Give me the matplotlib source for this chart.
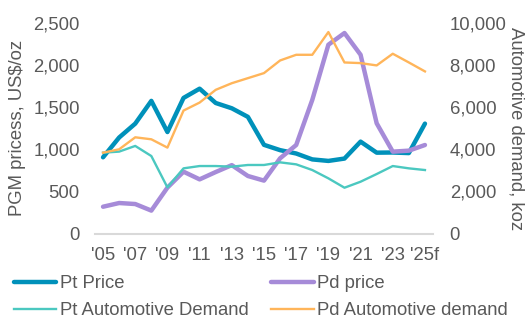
import numpy as np
import matplotlib
matplotlib.use("Agg")
import matplotlib.pyplot as plt

plt.rcParams['font.family'] = ['Liberation Sans', 'DejaVu Sans']

# data
years = list(range(2005, 2026))
tick_labels = ["'05", "'07", "'09", "'11", "'13", "'15", "'17", "'19", "'21", "'23", "'25f"]

pt_price = [905, 1140, 1305, 1575, 1205, 1610, 1720, 1550, 1487, 1385, 1053,
            990, 950, 880, 862, 890, 1091, 960, 962, 955, 1305]
pd_price = [318, 362, 350, 272, 545, 734, 643, 730, 812, 683, 628,
            893, 1051, 1587, 2242, 2381, 2123, 1309, 972, 984, 1051]
pt_auto = [3840, 3890, 4160, 3680, 2190, 3095, 3205, 3205, 3175, 3255, 3255,
           3380, 3285, 3015, 2620, 2175, 2460, 2825, 3205, 3095, 3015]
pd_auto = [3840, 4000, 4570, 4475, 4080, 5840, 6220, 6825, 7140, 7380, 7620,
           8220, 8490, 8490, 9570, 8125, 8095, 7985, 8540, 8125, 7700]

c_pt = '#0091BA'
c_pd = '#A68BD8'
c_pta = '#4BC8C0'
c_pda = '#FFB55A'
grey = '#595959'
fs = 13.3

fig = plt.figure(figsize=(5.32, 3.25), dpi=100)
ax = fig.add_axes([95 / 532, 1 - 233.5 / 325, (433 - 95) / 532, (233.5 - 23) / 325])
ax2 = ax.twinx()

x = np.arange(len(years))
l1, = ax.plot(x, pt_price, color=c_pt, lw=3.2, solid_capstyle='round', label='Pt Price')
l2, = ax.plot(x, pd_price, color=c_pd, lw=3.2, solid_capstyle='round', label='Pd price')
l3, = ax2.plot(x, pt_auto, color=c_pta, lw=1.7, label='Pt Automotive Demand')
l4, = ax2.plot(x, pd_auto, color=c_pda, lw=1.7, label='Pd Automotive demand')

ax.set_xlim(-0.5, len(years) - 0.5)
ax.set_ylim(0, 2500)
ax2.set_ylim(0, 10000)
ax.set_yticks(np.arange(0, 2501, 500))
ax2.set_yticks(np.arange(0, 10001, 2000))
ax.yaxis.set_major_formatter(matplotlib.ticker.StrMethodFormatter('{x:,.0f}'))
ax2.yaxis.set_major_formatter(matplotlib.ticker.StrMethodFormatter('{x:,.0f}'))
ax.set_xticks(x[::2])
ax.set_xticklabels(tick_labels)

for a in (ax, ax2):
    for s in a.spines.values():
        s.set_visible(False)
    a.tick_params(length=0, labelsize=fs, labelcolor=grey)
ax.spines['bottom'].set_visible(True)
ax.spines['bottom'].set_color('#D9D9D9')
ax.spines['bottom'].set_linewidth(1.5)
ax.tick_params(axis='y', pad=11)
ax.tick_params(axis='x', pad=10)
ax2.tick_params(axis='y', pad=12)

ax.set_ylabel('PGM pricess, US$/oz', fontsize=fs, color=grey, labelpad=5)
ax2.set_ylabel('Automotive demand, koz', fontsize=fs, color=grey, rotation=270, labelpad=13)

fig.legend([l1, l3, l2, l4], [h.get_label() for h in (l1, l3, l2, l4)],
           loc='upper left', bbox_to_anchor=(14 / 532, 1 - 275 / 325), ncol=2,
           frameon=False, fontsize=fs, handlelength=2.3, handletextpad=0.2,
           columnspacing=1.2, labelspacing=0.55, borderpad=0, borderaxespad=0,
           labelcolor=grey)

fig.savefig('out.png', dpi=100)
